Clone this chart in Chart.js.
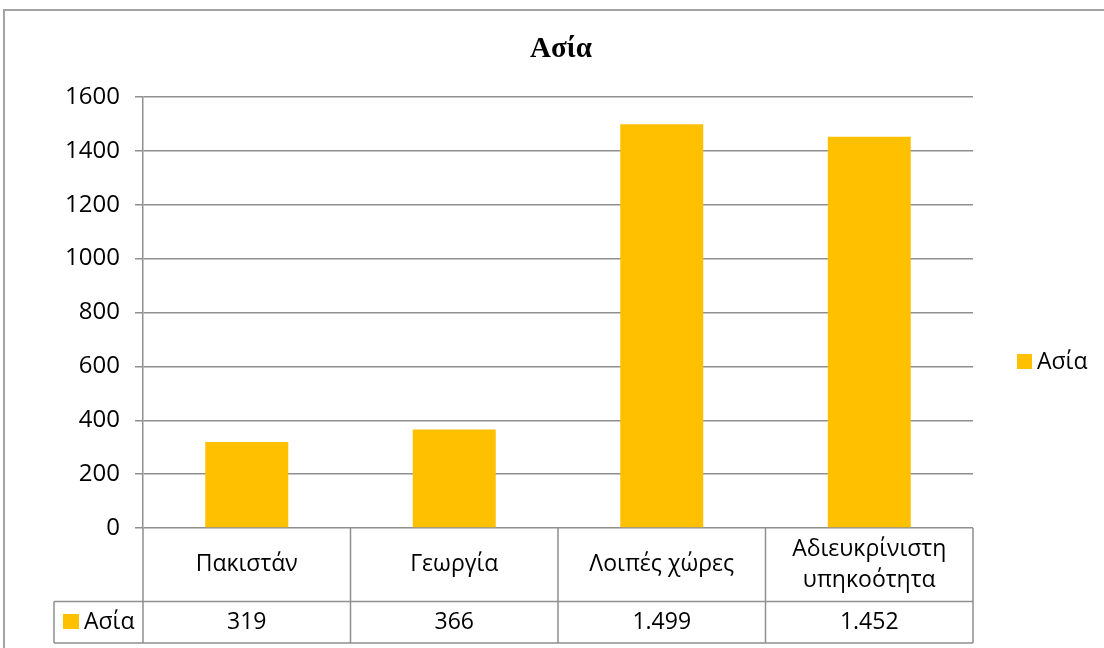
<!DOCTYPE html>
<html lang="el">
<head>
  <meta charset="UTF-8">
  <title>Ασία</title>
  <script src="https://cdn.jsdelivr.net/npm/chart.js"></script>
  <style>
    html, body { margin: 0; padding: 0; background: #fff; }
    #wrap { width: 1104px; height: 648px; position: relative; }
  </style>
</head>
<body>
  <div id="wrap"><canvas id="asiaChart" width="1104" height="648"></canvas></div>

  <script>
    // data
    const categories = ['Πακιστάν', 'Γεωργία', 'Λοιπές χώρες', ['Αδιευκρίνιστη', 'υπηκοότητα']];
    const seriesName = 'Ασία';
    const asiaValues = [319, 366, 1499, 1452];
    const yTicks = [0, 200, 400, 600, 800, 1000, 1200, 1400, 1600];

    const barColor = '#FFC000';
    const gridColor = '#8f8f8f';
    const textFont = '"Open Sans", "Noto Sans", sans-serif';

    // greek style thousands: 1.499
    function fmt(v) {
      return String(v).replace(/\B(?=(\d{3})+(?!\d))/g, '.');
    }

    // frame, title, legend and the data table under the axis
    const extras = {
      id: 'extras',
      beforeDraw(chart) {
        const c = chart.ctx;
        c.save();
        c.fillStyle = '#fff';
        c.fillRect(0, 0, chart.width, chart.height);
        c.strokeStyle = '#a3a3a3';
        c.lineWidth = 2;
        c.beginPath();
        c.moveTo(4, chart.height);
        c.lineTo(4, 10);
        c.lineTo(chart.width, 10);
        c.stroke();
        c.restore();
      },
      afterDraw(chart) {
        const c = chart.ctx;
        const area = chart.chartArea;
        const xs = chart.scales.x;
        const half = (area.right - area.left) / categories.length / 2;
        const rowTop = area.bottom;
        const rowMid = 601.5;
        const rowBot = 643;
        const legLeft = 54;

        c.save();
        // title
        c.fillStyle = '#000';
        c.font = 'bold 29px "Liberation Serif", "Times New Roman", serif';
        c.textAlign = 'center';
        c.textBaseline = 'middle';
        c.fillText(seriesName, 561, 50);

        // legend on the right
        c.fillStyle = barColor;
        c.fillRect(1017, 354, 15, 15);
        c.fillStyle = '#000';
        c.font = '23px ' + textFont;
        c.textAlign = 'left';
        c.fillText(seriesName, 1037, 362);

        // table grid
        c.strokeStyle = gridColor;
        c.lineWidth = 1.5;
        c.beginPath();
        c.moveTo(legLeft, rowMid); c.lineTo(area.right, rowMid);
        c.moveTo(legLeft, rowBot); c.lineTo(area.right, rowBot);
        c.moveTo(legLeft, rowMid); c.lineTo(legLeft, rowBot);
        c.moveTo(area.left, rowTop); c.lineTo(area.left, rowBot);
        categories.forEach((cat, i) => {
          const r = xs.getPixelForValue(i) + half;
          c.moveTo(r, rowTop); c.lineTo(r, rowBot);
        });
        c.stroke();

        // header labels and values
        c.fillStyle = '#000';
        c.font = '23px ' + textFont;
        c.textAlign = 'center';
        c.textBaseline = 'middle';
        categories.forEach((cat, i) => {
          const cx = xs.getPixelForValue(i);
          const lines = Array.isArray(cat) ? cat : [cat];
          const lh = 31;
          const y0 = (rowTop + rowMid) / 2 - (lines.length - 1) * lh / 2;
          lines.forEach((ln, k) => c.fillText(ln, cx, y0 + k * lh));
          c.fillText(fmt(asiaValues[i]), cx, (rowMid + rowBot) / 2);
        });

        // series key in the table
        c.fillStyle = barColor;
        c.fillRect(63, 614, 16, 15);
        c.fillStyle = '#000';
        c.textAlign = 'left';
        c.fillText(seriesName, 84, (rowMid + rowBot) / 2);
        c.restore();
      }
    };

    const ctx = document.getElementById('asiaChart').getContext('2d');
    new Chart(ctx, {
      type: 'bar',
      data: {
        labels: categories,
        datasets: [{
          label: seriesName,
          data: asiaValues,
          backgroundColor: barColor,
          borderWidth: 0,
          categoryPercentage: 0.8,
          barPercentage: 0.5
        }]
      },
      options: {
        responsive: false,
        animation: false,
        layout: { padding: { left: 0, top: 97, right: 131, bottom: 120 } },
        plugins: {
          legend: { display: false },
          title: { display: false },
          tooltip: { enabled: false }
        },
        scales: {
          x: { display: false },
          y: {
            min: yTicks[0],
            max: yTicks[yTicks.length - 1],
            afterFit: (scale) => { scale.width = 143; },
            afterBuildTicks: (scale) => { scale.ticks = yTicks.map(v => ({ value: v })); },
            ticks: {
              color: '#000',
              padding: 15,
              font: { family: textFont, size: 24 },
              callback: (value) => String(value)
            },
            grid: { color: gridColor, lineWidth: 1.5, tickLength: 8 },
            border: { color: gridColor, width: 1.5 }
          }
        }
      },
      plugins: [extras]
    });
  </script>
</body>
</html>
